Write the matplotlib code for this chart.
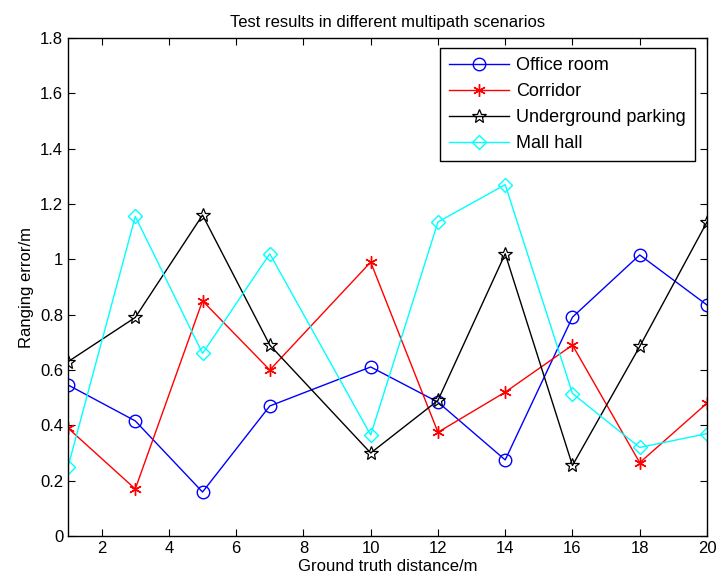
import matplotlib
matplotlib.use("Agg")
import matplotlib.pyplot as plt

plt.rcParams['font.family'] = ['Liberation Sans', 'DejaVu Sans']

distance = [1, 3, 5, 7, 10, 12, 14, 16, 18, 20]
office_room = [0.546, 0.416, 0.159, 0.47, 0.611, 0.484, 0.275, 0.791, 1.016, 0.835]
corridor = [0.39, 0.17, 0.85, 0.60, 0.99, 0.375, 0.52, 0.69, 0.265, 0.48]
underground = [0.63, 0.79, 1.16, 0.69, 0.30, 0.49, 1.02, 0.255, 0.685, 1.135]
mall_hall = [0.25, 1.155, 0.66, 1.02, 0.365, 1.135, 1.27, 0.515, 0.32, 0.37]

xticks = [2, 4, 6, 8, 10, 12, 14, 16, 18, 20]
yticks = [0, 0.2, 0.4, 0.6, 0.8, 1.0, 1.2, 1.4, 1.6, 1.8]
ytick_labels = ['0', '0.2', '0.4', '0.6', '0.8', '1', '1.2', '1.4', '1.6', '1.8']

fig = plt.figure(figsize=(7.16, 5.87), dpi=100)
ax = fig.add_axes([0.095, 0.0869, 0.8924, 0.8483])

ax.plot(distance, office_room, color='blue', marker='o', markersize=9, markerfacecolor='none',
        markeredgewidth=1.0, linewidth=1.0, label='Office room')
ax.plot(distance, corridor, color='red', marker=(6, 2, 0), markersize=9, markeredgewidth=1.0,
        linewidth=1.0, label='Corridor')
ax.plot(distance, underground, color='black', marker='*', markersize=10, markerfacecolor='none',
        markeredgewidth=0.9, linewidth=1.0, label='Underground parking')
ax.plot(distance, mall_hall, color='cyan', marker='D', markersize=7, markerfacecolor='none',
        markeredgewidth=1.0, linewidth=1.0, label='Mall hall')

ax.set_xlim(1, 20)
ax.set_ylim(0, 1.8)
ax.set_xticks(xticks)
ax.set_yticks(yticks)
ax.set_yticklabels(ytick_labels)
ax.tick_params(direction='in', top=True, right=True, labelsize=12, length=5, width=0.8)
for s in ax.spines.values():
    s.set_linewidth(1.0)

ax.set_xlabel('Ground truth distance/m', fontsize=12, labelpad=2)
ax.set_ylabel('Ranging error/m', fontsize=12, labelpad=4)
ax.set_title('Test results in different multipath scenarios', fontsize=12, pad=8)

leg = ax.legend(loc='upper right', fontsize=13, fancybox=False, framealpha=1,
                edgecolor='black', handlelength=3.3, handletextpad=0.4, borderpad=0.5,
                labelspacing=0.5, borderaxespad=0, bbox_to_anchor=(0.981, 0.98))
leg.get_frame().set_linewidth(1.0)

fig.savefig('out.png', dpi=100)
